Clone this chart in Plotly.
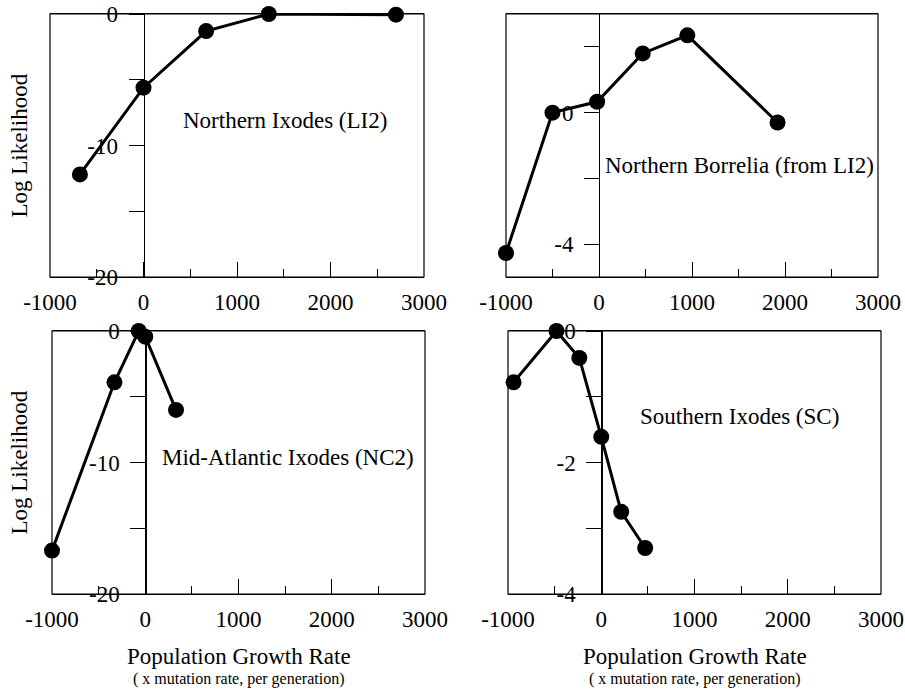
import plotly.graph_objects as go

# ---------------- data ----------------
x_ticks = [-1000, 0, 1000, 2000, 3000]
x_tick_text = ["-1000", "0", "1000", "2000", "3000"]
x_minor = [-500, 500, 1500, 2500]

ni_x = [-680, 0, 670, 1340, 2700]
ni_y = [-12.2, -5.6, -1.3, 0.0, -0.05]
ni_yticks = [0, -5, -10, -15, -20]
ni_ytext = ["0", "", "-10", "", "-20"]

nb_x = [-1000, -500, -20, 470, 950, 1920]
nb_y = [-4.27, 0.0, 0.33, 1.8, 2.35, -0.3]
nb_yticks = [2, 0, -2, -4]
nb_ytext = ["", "0", "", "-4"]

ma_x = [-1000, -330, -70, 0, 330]
ma_y = [-16.7, -3.9, 0.0, -0.43, -6.0]
ma_yticks = [0, -5, -10, -15, -20]
ma_ytext = ["0", "", "-10", "", "-20"]

si_x = [-940, -480, -235, 0, 214, 471]
si_y = [-0.78, 0.0, -0.41, -1.61, -2.75, -3.3]
si_yticks = [0, -1, -2, -3, -4]
si_ytext = ["0", "", "-2", "", "-4"]

labels = ["Northern Ixodes (LI2)", "Northern Borrelia (from LI2)",
          "Mid-Atlantic Ixodes (NC2)", "Southern Ixodes (SC)"]

# ---------------- layout geometry ----------------
W, H = 905, 692
FONT = "Liberation Serif"
X_RANGE = [-1000, 3000]

panels = [
    dict(x=ni_x, y=ni_y, yr=[-20, 0], tv=ni_yticks, tt=ni_ytext,
         px=(50, 424), py=(14, 277), lab=(1510, -8.1)),
    dict(x=nb_x, y=nb_y, yr=[-5, 3], tv=nb_yticks, tt=nb_ytext,
         px=(506, 878), py=(14, 277), lab=(1510, -1.62)),
    dict(x=ma_x, y=ma_y, yr=[-20, 0], tv=ma_yticks, tt=ma_ytext,
         px=(52, 425), py=(331, 594), lab=(1527, -9.6)),
    dict(x=si_x, y=si_y, yr=[-4, 0], tv=si_yticks, tt=si_ytext,
         px=(508, 881), py=(331, 594), lab=(1478, -1.3)),
]

fig = go.Figure()
shapes = []
annotations = []

for i, p in enumerate(panels, start=1):
    sfx = "" if i == 1 else str(i)
    xa, ya = "x" + sfx, "y" + sfx
    xdom = [p["px"][0] / W, p["px"][1] / W]
    ydom = [1 - p["py"][1] / H, 1 - p["py"][0] / H]
    frac0 = (0 - X_RANGE[0]) / (X_RANGE[1] - X_RANGE[0])
    ypos = xdom[0] + frac0 * (xdom[1] - xdom[0])

    fig.add_trace(go.Scatter(
        x=p["x"], y=p["y"], mode="lines+markers", xaxis=xa, yaxis=ya,
        line=dict(color="black", width=3),
        marker=dict(color="black", size=16),
        showlegend=False, cliponaxis=False, hoverinfo="skip"))

    fig.layout["xaxis" + sfx] = dict(
        domain=xdom, anchor=ya, range=X_RANGE, automargin=False,
        tickmode="array", tickvals=x_ticks, ticktext=x_tick_text,
        ticks="inside", ticklen=15, tickwidth=1, tickcolor="black",
        minor=dict(tickmode="array", tickvals=x_minor, ticks="inside",
                   ticklen=8, tickwidth=1, tickcolor="black", showgrid=False),
        showline=True, linecolor="black", linewidth=1, mirror=True,
        showgrid=False, zeroline=False, ticklabeloverflow="allow",
        tickfont=dict(family=FONT, size=23, color="black"),
        ticklabelstandoff=4)
    fig.layout["yaxis" + sfx] = dict(
        domain=ydom, anchor="free", position=ypos, range=p["yr"],
        automargin=False, ticklabeloverflow="allow",
        tickmode="array", tickvals=p["tv"], ticktext=p["tt"],
        ticks="outside", ticklen=15, tickwidth=1, tickcolor="black",
        showline=True, linecolor="black", linewidth=1.3,
        showgrid=False, zeroline=False,
        tickfont=dict(family=FONT, size=23, color="black"),
        ticklabelstandoff=6)

    shapes.append(dict(type="rect", xref=xa + " domain", yref=ya + " domain",
                       x0=0, x1=1, y0=0, y1=1,
                       line=dict(color="black", width=1.2), layer="above"))

    annotations.append(dict(text=labels[i - 1], x=p["lab"][0], y=p["lab"][1],
                            xref=xa, yref=ya, showarrow=False,
                            xanchor="center", yanchor="middle",
                            font=dict(family=FONT, size=23, color="black")))

    if i in (1, 3):
        annotations.append(dict(text="Log Likelihood", x=19 / W, xref="paper",
                                y=0.5, yref=ya + " domain", textangle=-90,
                                showarrow=False, xanchor="center", yanchor="middle",
                                font=dict(family=FONT, size=23, color="black")))
    if i in (3, 4):
        annotations.append(dict(text="Population Growth Rate", x=0.5,
                                xref=xa + " domain", y=0, yref=ya + " domain",
                                yshift=-62, showarrow=False,
                                xanchor="center", yanchor="middle",
                                font=dict(family=FONT, size=23, color="black")))
        annotations.append(dict(text="( x mutation rate, per generation)", x=0.5,
                                xref=xa + " domain", y=0, yref=ya + " domain",
                                yshift=-85, showarrow=False,
                                xanchor="center", yanchor="middle",
                                font=dict(family=FONT, size=16, color="black")))

fig.update_layout(
    width=W, height=H,
    margin=dict(l=0, r=0, t=0, b=0, autoexpand=False),
    paper_bgcolor="white", plot_bgcolor="white",
    font=dict(family=FONT, color="black"),
    shapes=shapes, annotations=annotations,
    showlegend=False)

fig.write_html("out.html",
               config={"displayModeBar": False, "staticPlot": True},
               post_script="document.body.style.margin='0';"
                           "document.body.style.overflow='hidden';")
